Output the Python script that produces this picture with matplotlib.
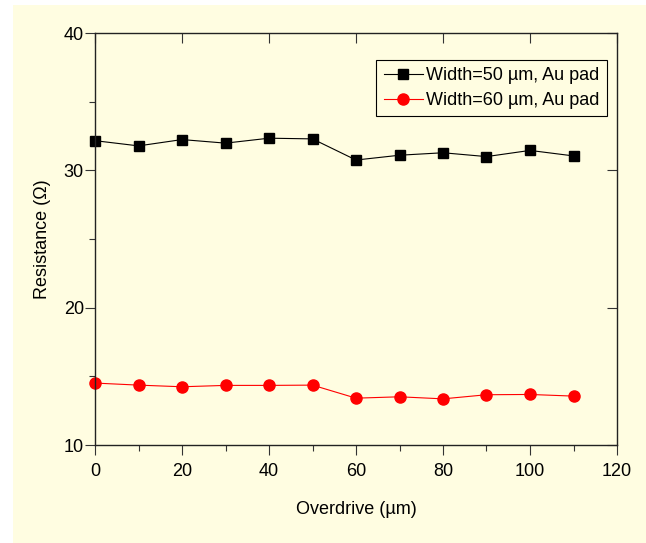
import matplotlib.pyplot as plt
from matplotlib.patches import Rectangle
from matplotlib.ticker import MultipleLocator

overdrive = [0, 10, 20, 30, 40, 50, 60, 70, 80, 90, 100, 110]
res_50 = [32.16, 31.78, 32.24, 31.98, 32.34, 32.29, 30.75, 31.1, 31.28, 31.0, 31.45, 31.05]
res_60 = [14.51, 14.36, 14.24, 14.34, 14.34, 14.36, 13.41, 13.51, 13.36, 13.66, 13.68, 13.56]
labels = ['Width=50 \u00b5m, Au pad', 'Width=60 \u00b5m, Au pad']

bg = '#fffde1'
plt.rcParams['font.family'] = ['Liberation Sans', 'DejaVu Sans']

fig = plt.figure(figsize=(6.46, 5.43), dpi=100, facecolor='white')
fig.patches.append(Rectangle((13 / 646, 0), 1, (543 - 5) / 543, transform=fig.transFigure,
                             facecolor=bg, edgecolor='none', zorder=-10))
ax = fig.add_axes([95 / 646, 98 / 543, 522 / 646, 412 / 543])
ax.set_facecolor(bg)

ax.plot(overdrive, res_50, color='black', lw=0.8, marker='s', ms=7.5, label=labels[0], clip_on=False)
ax.plot(overdrive, res_60, color='red', lw=0.8, marker='o', ms=8, label=labels[1], clip_on=False)

ax.set_xlim(0, 120)
ax.set_ylim(10, 40)
ax.xaxis.set_major_locator(MultipleLocator(20))
ax.xaxis.set_minor_locator(MultipleLocator(10))
ax.yaxis.set_major_locator(MultipleLocator(10))
ax.yaxis.set_minor_locator(MultipleLocator(5))
ax.tick_params(which='both', direction='out', labelsize=13, width=0.8, color='#333333')
ax.tick_params(which='major', length=7)
ax.tick_params(which='minor', length=4)
ax.tick_params(axis='x', which='major', pad=6)
ax.tick_params(axis='y', which='major', pad=1)
ax.tick_params(top=True, right=True, which='major')
for s in ax.spines.values():
    s.set_linewidth(1.0)
    s.set_color('#222222')

# inward ticks on top and right
for t in ax.xaxis.get_major_ticks():
    t.tick2line.set_marker(3)
for t in ax.yaxis.get_major_ticks():
    t.tick2line.set_marker(0)

ax.set_xlabel('Overdrive (\u00b5m)', fontsize=13, labelpad=15)
ax.set_ylabel('Resistance (\u03a9)', fontsize=13, labelpad=9)

leg = ax.legend(loc='upper right', bbox_to_anchor=(0.98, 0.935), fontsize=13, frameon=True,
                fancybox=False, edgecolor='black', facecolor=bg, framealpha=1,
                handlelength=2.2, handletextpad=0.15, borderpad=0.4, labelspacing=0.45,
                borderaxespad=0)
leg.get_frame().set_linewidth(0.8)

fig.savefig('out.png', dpi=100, facecolor=fig.get_facecolor())
